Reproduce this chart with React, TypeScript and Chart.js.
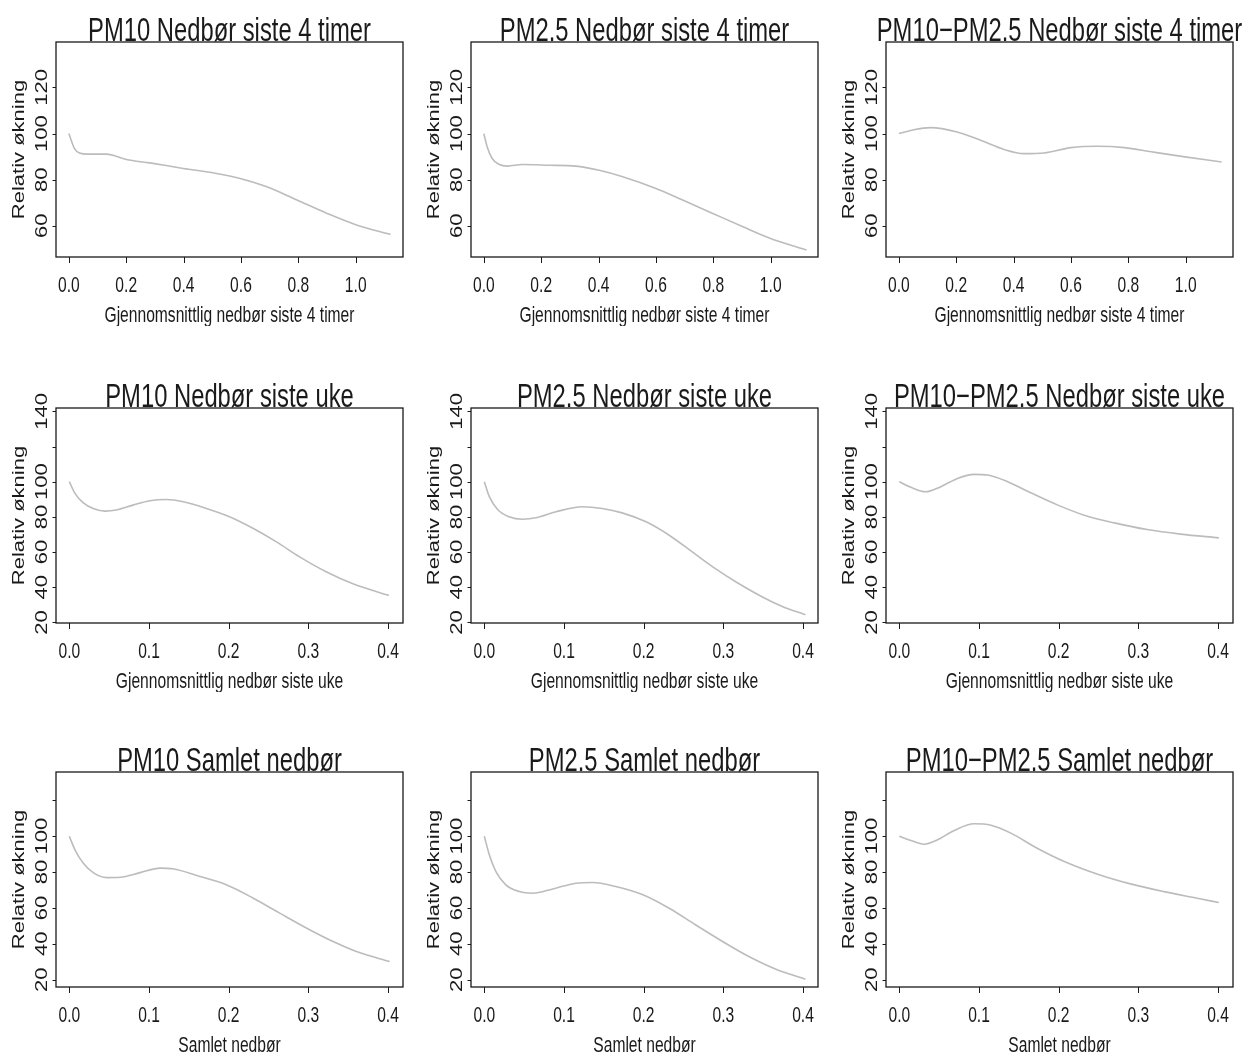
import React, { useEffect, useRef } from "react";
import { Chart, registerables } from "chart.js";

Chart.register(...registerables);

// ---------------- data ----------------
const titles = [
  "PM10 Nedbør siste 4 timer",
  "PM2.5 Nedbør siste 4 timer",
  "PM10\u2212PM2.5 Nedbør siste 4 timer",
  "PM10 Nedbør siste uke",
  "PM2.5 Nedbør siste uke",
  "PM10\u2212PM2.5 Nedbør siste uke",
  "PM10 Samlet nedbør",
  "PM2.5 Samlet nedbør",
  "PM10\u2212PM2.5 Samlet nedbør",
];

const xAxisTitles = [
  "Gjennomsnittlig nedbør siste 4 timer",
  "Gjennomsnittlig nedbør siste uke",
  "Samlet nedbør",
];
const yAxisTitle = "Relativ økning";

const xTicksRow1 = [0, 0.2, 0.4, 0.6, 0.8, 1.0];
const xTickLabelsRow1 = ["0.0", "0.2", "0.4", "0.6", "0.8", "1.0"];
const xTicksRow23 = [0, 0.1, 0.2, 0.3, 0.4];
const xTickLabelsRow23 = ["0.0", "0.1", "0.2", "0.3", "0.4"];

const yTicksRow1 = [60, 80, 100, 120];
const yTickLabelsRow1 = ["60", "80", "100", "120"];
const yTicksRow2 = [20, 40, 60, 80, 100, 120, 140];
const yTickLabelsRow2 = ["20", "40", "60", "80", "100", "", "140"];
const yTicksRow3 = [20, 40, 60, 80, 100, 120];
const yTickLabelsRow3 = ["20", "40", "60", "80", "100", ""];

const xRangeRow1 = [-0.0448, 1.1648];
const xRangeRow23 = [-0.0167, 0.4188];
const yRangeRow1 = [46.5, 139.7];
const yRangeRow2 = [19.7, 141.9];
const yRangeRow3 = [15.9, 135.8];

// PM10, nedbør siste 4 timer
const pm10Hour4X = [0, 0.0198, 0.037, 0.066, 0.131, 0.2, 0.282, 0.399, 0.515, 0.597, 0.69, 0.795, 0.9, 1.005, 1.121];
const pm10Hour4Y = [100, 93.5, 91.6, 91.1, 91.1, 88.8, 87.3, 84.9, 82.7, 80.5, 76.9, 71.2, 65.4, 60.3, 56.3];
// PM2.5, nedbør siste 4 timer
const pm25Hour4X = [0, 0.0117, 0.029, 0.052, 0.082, 0.134, 0.227, 0.32, 0.402, 0.484, 0.6, 0.693, 0.798, 0.903, 0.997, 1.125];
const pm25Hour4Y = [100, 94.2, 89.2, 86.7, 85.9, 86.6, 86.3, 85.9, 84.1, 81.3, 76.2, 71.2, 65.4, 59.6, 54.6, 49.5];
// PM10-PM2.5, nedbør siste 4 timer
const coarseHour4X = [0, 0.052, 0.11, 0.203, 0.285, 0.367, 0.436, 0.506, 0.6, 0.693, 0.787, 0.88, 0.997, 1.125];
const coarseHour4Y = [100, 101.7, 102.6, 100.7, 97.1, 93.1, 91.3, 91.6, 93.9, 94.5, 93.9, 92.1, 89.9, 87.7];

// PM10, nedbør siste uke
const pm10WeekX = [0, 0.0071, 0.0176, 0.03, 0.0447, 0.059, 0.08, 0.101, 0.122, 0.143, 0.172, 0.201, 0.231, 0.26, 0.289, 0.323, 0.356, 0.401];
const pm10WeekY = [100, 93.4, 88.0, 84.8, 83.3, 83.9, 86.7, 89.2, 89.9, 88.6, 84.8, 80.1, 73.4, 65.8, 57.3, 48.7, 42.0, 35.4];
// PM2.5, nedbør siste uke
const pm25WeekX = [0, 0.0063, 0.0167, 0.031, 0.048, 0.065, 0.09, 0.123, 0.148, 0.173, 0.203, 0.232, 0.261, 0.29, 0.316, 0.349, 0.374, 0.403];
const pm25WeekY = [100, 91.5, 84.2, 80.1, 78.7, 79.5, 82.9, 85.8, 84.8, 82.3, 77.2, 69.6, 60.1, 50.6, 43.0, 34.5, 29.1, 24.4];
// PM10-PM2.5, nedbør siste uke
const coarseWeekX = [0, 0.0146, 0.033, 0.052, 0.073, 0.094, 0.111, 0.136, 0.165, 0.199, 0.232, 0.27, 0.311, 0.353, 0.401];
const coarseWeekY = [100, 96.8, 94.3, 97.2, 101.9, 104.2, 103.8, 100, 93.7, 86.7, 81.0, 76.6, 72.8, 70.2, 68.1];

// PM10, samlet nedbør
const pm10TotalX = [0, 0.0071, 0.0176, 0.03, 0.047, 0.064, 0.089, 0.114, 0.13, 0.164, 0.197, 0.231, 0.264, 0.298, 0.331, 0.364, 0.402];
const pm10TotalY = [100, 92.4, 84.9, 79.7, 76.9, 77.1, 79.7, 82.2, 81.8, 77.5, 72.9, 65.4, 57.1, 48.7, 41.3, 35.1, 30.1];
// PM2.5, samlet nedbør
const pm25TotalX = [0, 0.0063, 0.0146, 0.027, 0.044, 0.061, 0.086, 0.115, 0.136, 0.165, 0.199, 0.232, 0.265, 0.299, 0.332, 0.366, 0.403];
const pm25TotalY = [100, 89.6, 80.3, 72.9, 69.1, 68.2, 70.6, 73.8, 74.2, 71.9, 67.3, 59.8, 50.6, 41.3, 32.9, 25.8, 20.2];
// PM10-PM2.5, samlet nedbør
const coarseTotalX = [0, 0.0146, 0.031, 0.048, 0.069, 0.094, 0.115, 0.14, 0.173, 0.207, 0.249, 0.29, 0.332, 0.374, 0.401];
const coarseTotalY = [100, 97.6, 95.5, 98.0, 103.2, 106.9, 106.1, 101.7, 93.3, 85.9, 78.8, 73.4, 69.1, 65.4, 63.0];

const seriesX = [pm10Hour4X, pm25Hour4X, coarseHour4X, pm10WeekX, pm25WeekX, coarseWeekX, pm10TotalX, pm25TotalX, coarseTotalX];
const seriesY = [pm10Hour4Y, pm25Hour4Y, coarseHour4Y, pm10WeekY, pm25WeekY, coarseWeekY, pm10TotalY, pm25TotalY, coarseTotalY];

const rowXTicks = [xTicksRow1, xTicksRow23, xTicksRow23];
const rowXTickLabels = [xTickLabelsRow1, xTickLabelsRow23, xTickLabelsRow23];
const rowYTicks = [yTicksRow1, yTicksRow2, yTicksRow3];
const rowYTickLabels = [yTickLabelsRow1, yTickLabelsRow2, yTickLabelsRow3];
const rowXRange = [xRangeRow1, xRangeRow23, xRangeRow23];
const rowYRange = [yRangeRow1, yRangeRow2, yRangeRow3];

// ---------------- layout / style ----------------
const FONT = '"Liberation Sans", Arial, Helvetica, sans-serif';
const SQUEEZE = 0.71;
const CELL_W = 415;
const CELL_H = 326;
const ROW_TOP = [0, 366, 730];
const PAD = { left: 56, top: 42, right: 12, bottom: CELL_H - 257 };
const TEXT_COLOR = "#1a1a1a";
const LINE_COLOR = "#bcbcbc";

function drawText(ctx: CanvasRenderingContext2D, text: string, x: number, y: number, size: number, rotate: boolean) {
  ctx.save();
  ctx.translate(x, y);
  ctx.scale(SQUEEZE, 1);
  if (rotate) ctx.rotate(-Math.PI / 2);
  ctx.font = `${size}px ${FONT}`;
  ctx.fillStyle = TEXT_COLOR;
  ctx.textAlign = "center";
  ctx.textBaseline = "alphabetic";
  ctx.fillText(text, 0, 0);
  ctx.restore();
}

function Panel({ index }: { index: number }) {
  const ref = useRef<HTMLCanvasElement | null>(null);
  const row = Math.floor(index / 3);
  const col = index % 3;

  useEffect(() => {
    const canvas = ref.current;
    if (!canvas) return;
    const xs = seriesX[index];
    const ys = seriesY[index];
    const xTicks = rowXTicks[row];
    const xLabels = rowXTickLabels[row];
    const yTicks = rowYTicks[row];
    const yLabels = rowYTickLabels[row];

    const framePlugin = {
      id: "rframe",
      afterDraw(chart: any) {
        const ctx = chart.ctx as CanvasRenderingContext2D;
        const a = chart.chartArea;
        const xs_ = chart.scales.x;
        const ys_ = chart.scales.y;
        ctx.save();
        ctx.strokeStyle = "#1a1a1a";
        ctx.lineWidth = 1.3;
        ctx.strokeRect(a.left, a.top, a.right - a.left, a.bottom - a.top);
        // y ticks
        ctx.lineWidth = 1;
        ctx.beginPath();
        yTicks.forEach((v) => {
          const py = Math.round(ys_.getPixelForValue(v)) + 0.5;
          ctx.moveTo(a.left, py);
          ctx.lineTo(a.left - 3.5, py);
        });
        xTicks.forEach((v) => {
          const px = Math.round(xs_.getPixelForValue(v)) + 0.5;
          ctx.moveTo(px, a.bottom);
          ctx.lineTo(px, a.bottom + 6);
        });
        ctx.stroke();
        ctx.restore();
        // tick labels
        yTicks.forEach((v, i) => {
          if (yLabels[i]) drawText(ctx, yLabels[i], a.left - 9.3, ys_.getPixelForValue(v), 22, true);
        });
        xTicks.forEach((v, i) => {
          drawText(ctx, xLabels[i], xs_.getPixelForValue(v), a.bottom + 34.5, 22, false);
        });
        const cx = (a.left + a.right) / 2;
        const cy = (a.top + a.bottom) / 2;
        drawText(ctx, xAxisTitles[row], cx, a.bottom + 65, 22, false);
        drawText(ctx, yAxisTitle, a.left - 32, cy, 22, true);
        drawText(ctx, titles[index], cx, a.top - 1, 33.5, false);
      },
    };

    const chart = new Chart(canvas, {
      type: "line",
      data: {
        datasets: [
          {
            data: xs.map((x, i) => ({ x, y: ys[i] })),
            borderColor: LINE_COLOR,
            borderWidth: 1.6,
            pointRadius: 0,
            fill: false,
            cubicInterpolationMode: "monotone",
          },
        ],
      },
      options: {
        animation: false,
        responsive: false,
        devicePixelRatio: 1,
        layout: { padding: PAD },
        plugins: { legend: { display: false }, tooltip: { enabled: false }, title: { display: false } },
        scales: {
          x: { type: "linear", display: false, min: rowXRange[row][0], max: rowXRange[row][1] },
          y: { type: "linear", display: false, min: rowYRange[row][0], max: rowYRange[row][1] },
        },
      },
      plugins: [framePlugin],
    } as any);
    return () => chart.destroy();
  }, [index, row]);

  return (
    <canvas
      ref={ref}
      width={CELL_W}
      height={CELL_H}
      style={{ position: "absolute", left: col * CELL_W, top: ROW_TOP[row], width: CELL_W, height: CELL_H }}
    />
  );
}

export default function App() {
  return (
    <div style={{ position: "absolute", left: 0, top: 0, width: 1250, height: 1056, overflow: "hidden", background: "#fff" }}>
      {titles.map((_, i) => (
        <Panel key={i} index={i} />
      ))}
    </div>
  );
}
